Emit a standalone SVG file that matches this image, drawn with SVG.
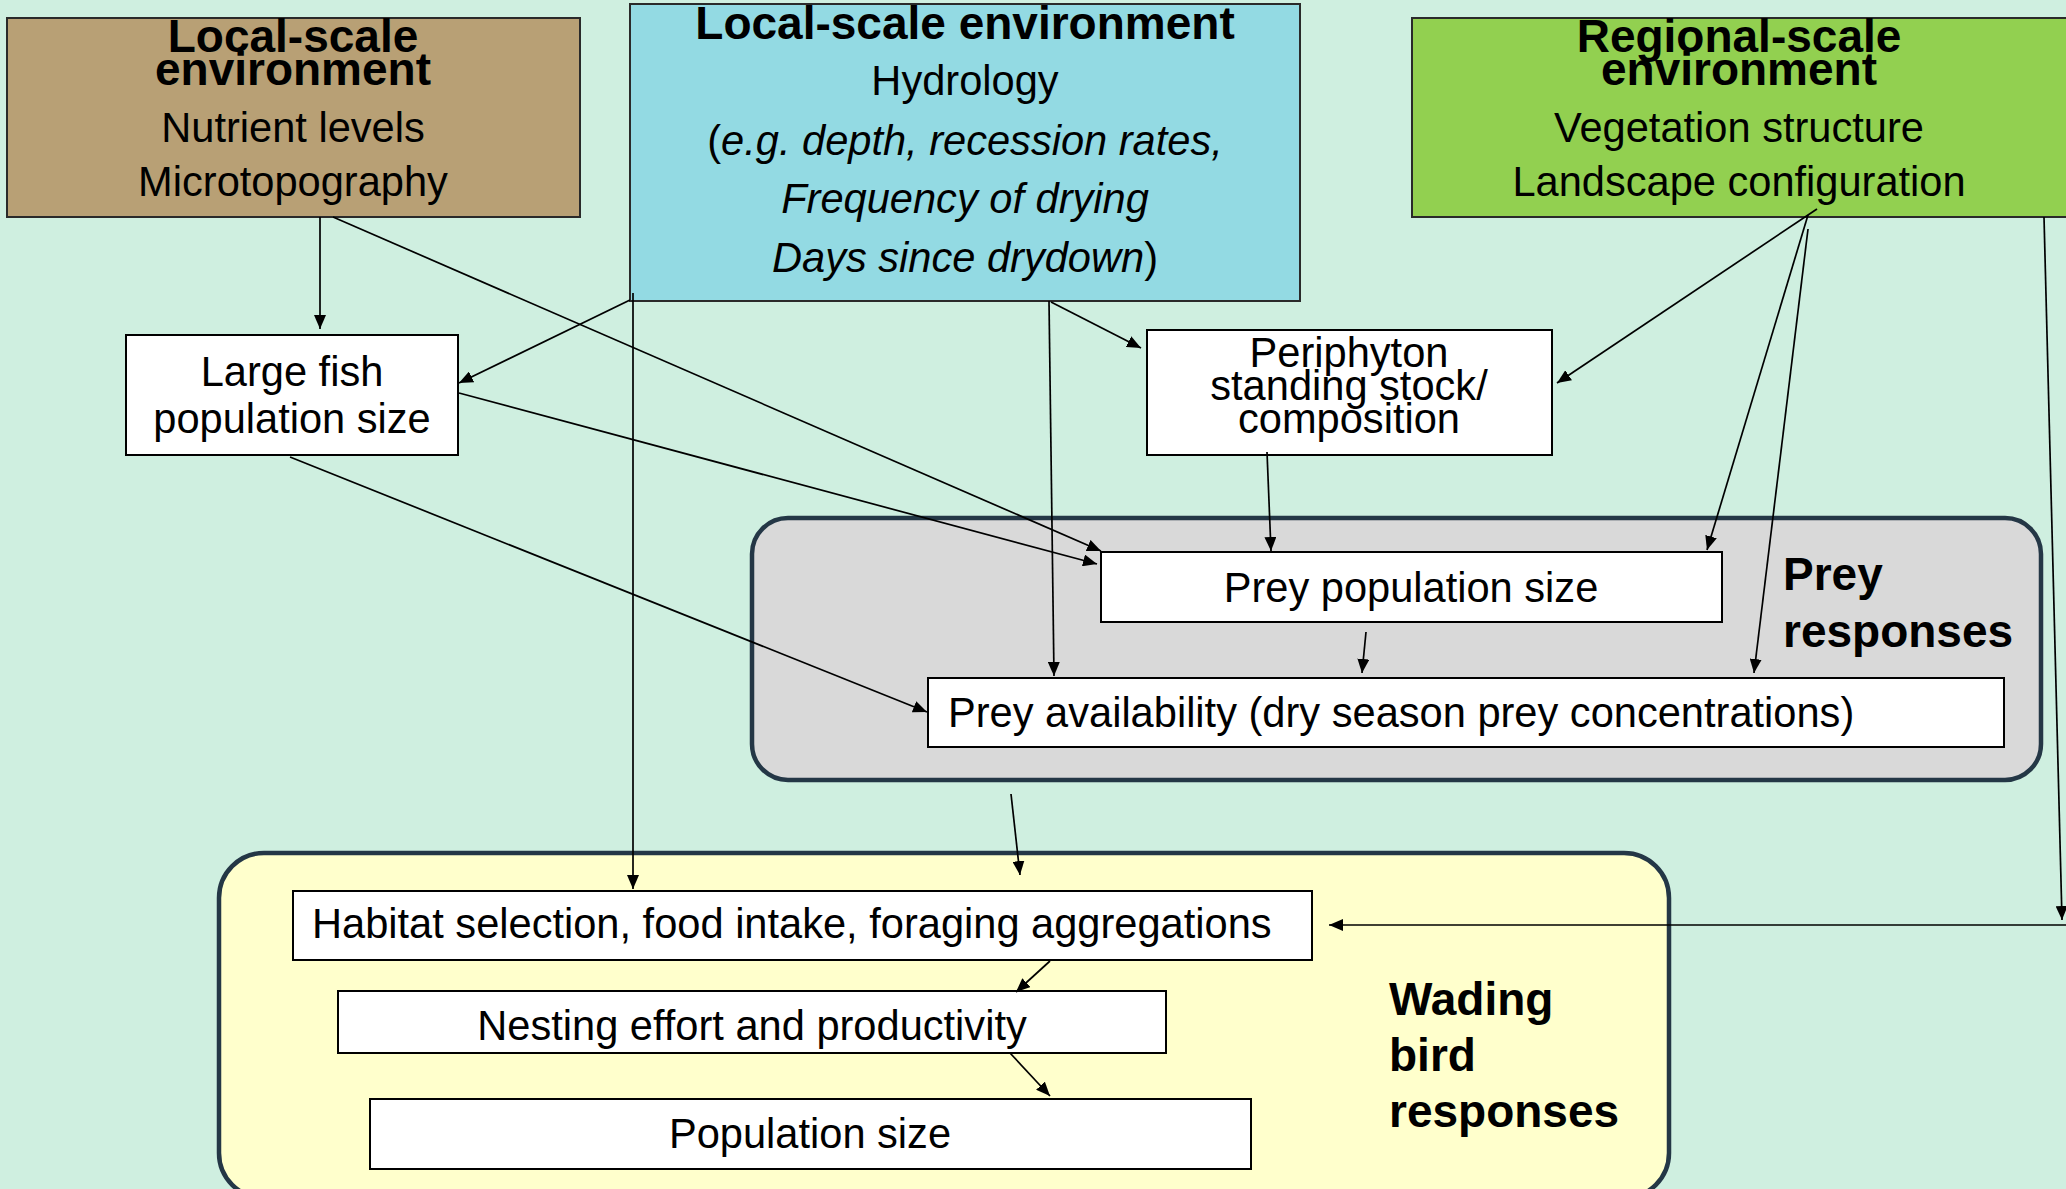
<svg xmlns="http://www.w3.org/2000/svg" width="2066" height="1189" viewBox="0 0 2066 1189">
<style>
text{font-family:"Liberation Sans",Arial,sans-serif;fill:#000}
.t{font-size:46px;font-weight:bold}
.b{font-size:41.6px}
.c{text-anchor:middle}
.env{stroke:#2a2a2a;stroke-width:2}
.box{fill:#fff;stroke:#000;stroke-width:2}
.grp{stroke:#243746;stroke-width:4.5}
.ln{fill:none;stroke:#000;stroke-width:1.7}
.ar{marker-end:url(#ah)}
</style>
<defs>
<marker id="ah" viewBox="0 0 14 12" refX="14" refY="6" markerWidth="14" markerHeight="12" markerUnits="userSpaceOnUse" orient="auto">
<path d="M0,0 L14,6 L0,12 z" fill="#000"/>
</marker>
</defs>
<rect x="0" y="0" width="2066" height="1189" fill="#CFEFE0"/>

<g id="prey-responses">
<rect class="grp" x="752" y="518" width="1289" height="262" rx="36" fill="#D9D9D9"/>
<text class="t" x="1783" y="590">Prey</text>
<text class="t" x="1783" y="647">responses</text>
</g>

<g id="wading-bird-responses">
<rect class="grp" x="219" y="853" width="1450" height="345" rx="45" fill="#FFFFCC"/>
<text class="t" x="1389" y="1015">Wading</text>
<text class="t" x="1389" y="1071">bird</text>
<text class="t" x="1389" y="1127">responses</text>
</g>

<g id="local-nutrients">
<rect class="env" x="7" y="18" width="573" height="199" fill="#B8A075"/>
<text class="t c" x="293" y="52">Local-scale</text>
<text class="t c" x="293" y="85">environment</text>
<text class="b c" x="293" y="142">Nutrient levels</text>
<text class="b c" x="293" y="196">Microtopography</text>
</g>

<g id="local-hydrology">
<rect class="env" x="630" y="4" width="670" height="297" fill="#93DAE3"/>
<text class="t c" x="965" y="39">Local-scale environment</text>
<text class="b c" x="965" y="95">Hydrology</text>
<text class="b c" x="965" y="155">(<tspan font-style="italic">e.g. depth, recession rates,</tspan></text>
<text class="b c" x="965" y="213" font-style="italic">Frequency of drying</text>
<text class="b c" x="965" y="272"><tspan font-style="italic">Days since drydown</tspan>)</text>
</g>

<g id="regional">
<rect class="env" x="1412" y="18" width="660" height="199" fill="#92D050"/>
<text class="t c" x="1739" y="52">Regional-scale</text>
<text class="t c" x="1739" y="85">environment</text>
<text class="b c" x="1739" y="142">Vegetation structure</text>
<text class="b c" x="1739" y="196">Landscape configuration</text>
</g>

<g id="large-fish">
<rect class="box" x="126" y="335" width="332" height="120"/>
<text class="b c" x="292" y="386">Large fish</text>
<text class="b c" x="292" y="433">population size</text>
</g>

<g id="periphyton">
<rect class="box" x="1147" y="330" width="405" height="125"/>
<text class="b c" x="1349" y="367">Periphyton</text>
<text class="b c" x="1349" y="400">standing stock/</text>
<text class="b c" x="1349" y="433">composition</text>
</g>

<g id="prey-population">
<rect class="box" x="1101" y="552" width="621" height="70"/>
<text class="b c" x="1411" y="602">Prey population size</text>
</g>

<g id="prey-availability">
<rect class="box" x="928" y="678" width="1076" height="69"/>
<text class="b" x="948" y="727">Prey availability (dry season prey concentrations)</text>
</g>

<g id="habitat-selection">
<rect class="box" x="293" y="891" width="1019" height="69"/>
<text class="b" x="312" y="938">Habitat selection, food intake, foraging aggregations</text>
</g>

<g id="nesting">
<rect class="box" x="338" y="991" width="828" height="62"/>
<text class="b c" x="752" y="1040">Nesting effort and productivity</text>
</g>

<g id="population-size">
<rect class="box" x="370" y="1099" width="881" height="70"/>
<text class="b c" x="810" y="1148">Population size</text>
</g>

<g id="connectors">
<line class="ln ar" x1="320" y1="217" x2="320" y2="329"/>
<line class="ln ar" x1="333" y1="217" x2="1101" y2="551"/>
<line class="ln ar" x1="630" y1="300" x2="459" y2="383"/>
<line class="ln ar" x1="459" y1="393" x2="1097" y2="564"/>
<line class="ln ar" x1="290" y1="457" x2="927" y2="712"/>
<line class="ln ar" x1="633" y1="293" x2="633" y2="889"/>
<line class="ln ar" x1="1049" y1="301" x2="1054" y2="676"/>
<line class="ln ar" x1="1051" y1="302" x2="1141" y2="348"/>
<line class="ln ar" x1="1267" y1="452" x2="1271" y2="551"/>
<line class="ln ar" x1="1817" y1="209" x2="1557" y2="383"/>
<line class="ln ar" x1="1808" y1="215" x2="1707" y2="550"/>
<line class="ln ar" x1="1808" y1="229" x2="1754" y2="673"/>
<line class="ln ar" x1="2044" y1="217" x2="2062" y2="920"/>
<line class="ln ar" x1="2066" y1="925" x2="1329" y2="925"/>
<line class="ln ar" x1="1366" y1="632" x2="1362" y2="673"/>
<line class="ln ar" x1="1011" y1="794" x2="1020" y2="875"/>
<line class="ln ar" x1="1050" y1="961" x2="1016" y2="992"/>
<line class="ln ar" x1="1010" y1="1053" x2="1050" y2="1096"/>
</g>
</svg>
